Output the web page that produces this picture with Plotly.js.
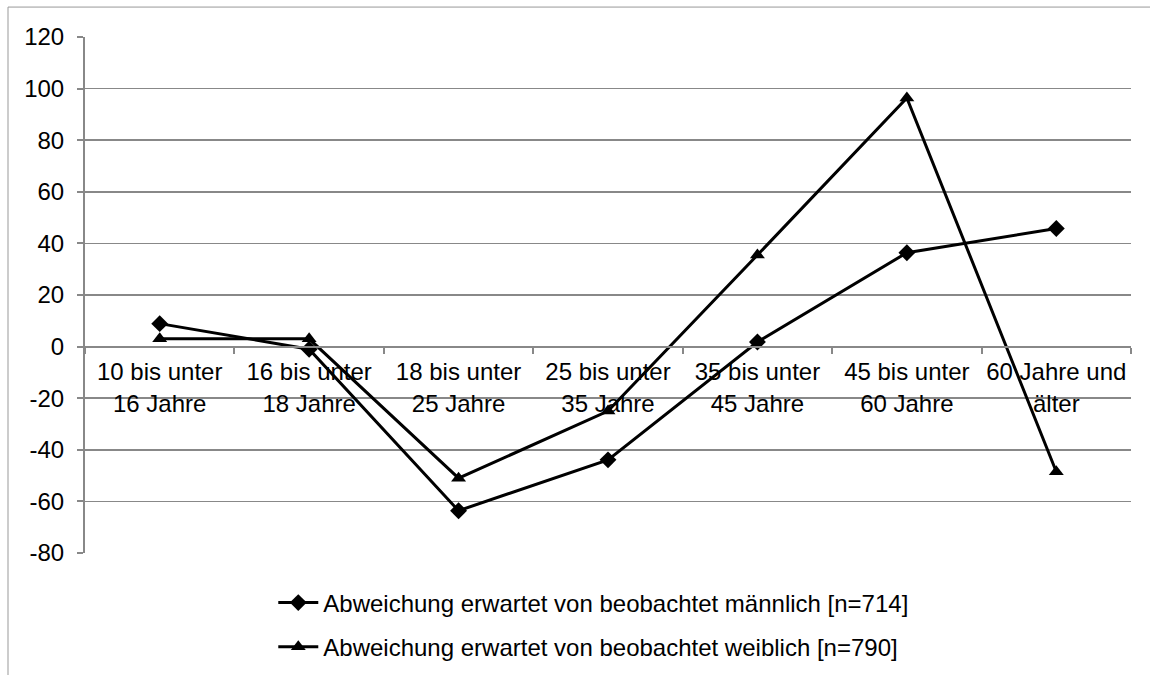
<!DOCTYPE html>
<html>
<head>
<meta charset="utf-8">
<script src="https://cdn.plot.ly/plotly-3.0.1.min.js"></script>
<style>
html,body{margin:0;padding:0;background:#fff;}
#chart{width:1150px;height:675px;}
</style>
</head>
<body>
<div id="chart"></div>
<script>
const categories = [
  "10 bis unter<br>16 Jahre",
  "16 bis unter<br>18 Jahre",
  "18 bis unter<br>25 Jahre",
  "25 bis unter<br>35 Jahre",
  "35 bis unter<br>45 Jahre",
  "45 bis unter<br>60 Jahre",
  "60 Jahre und<br>älter"
];
const maleValues = [8.9, -1, -63.6, -43.9, 1.8, 36.4, 45.8];
const femaleValues = [3, 3, -51, -25, 35.5, 96.4, -48.5];
const maleName = "Abweichung erwartet von beobachtet männlich [n=714]";
const femaleName = "Abweichung erwartet von beobachtet weiblich [n=790]";
const yTicks = [-80, -60, -40, -20, 0, 20, 40, 60, 80, 100, 120];

const FONT = "Liberation Sans, Arial, sans-serif";

const traces = [
  {
    x: categories, y: maleValues, name: maleName, type: "scatter", mode: "lines+markers",
    legendgroup: "m",
    line: {color: "#000", width: 3},
    marker: {symbol: "diamond", size: 13, color: "#000"}
  },
  {
    x: categories, y: femaleValues, name: femaleName, type: "scatter", mode: "lines+markers",
    legendgroup: "f",
    line: {color: "#000", width: 3},
    marker: {symbol: "triangle-up", size: 13, color: "#000"}
  }
];

const layout = {
  width: 1150, height: 675,
  margin: {l: 85, r: 19, t: 37, b: 122},
  paper_bgcolor: "#fff", plot_bgcolor: "#fff",
  font: {family: FONT, color: "#000", size: 24},
  showlegend: true,
  legend: {
    orientation: "v", xref: "paper", x: 0.18, xanchor: "left",
    yref: "container", y: 0.14, yanchor: "top",
    font: {family: FONT, size: 24, color: "#000"},
    tracegroupgap: 10, itemwidth: 40,
    bgcolor: "rgba(0,0,0,0)"
  },
  xaxis: {
    type: "category",
    anchor: "free", position: 0.4,
    showline: true, linecolor: "#888", linewidth: 2,
    showgrid: false, zeroline: false,
    ticks: "outside", ticklen: 6, tickcolor: "#888", tickwidth: 2,
    tickson: "boundaries", tickangle: 0, automargin: false,
    tickfont: {family: FONT, size: 24, color: "#000"},
    ticklabelstandoff: 4,
    range: [-0.5, 6.5]
  },
  yaxis: {
    range: [-80, 120], tickvals: yTicks, ticktext: yTicks.map(String),
    showline: true, linecolor: "#888", linewidth: 2,
    showgrid: true, gridcolor: "#888", gridwidth: 1.5,
    zeroline: false, automargin: false,
    ticks: "outside", ticklen: 6, tickcolor: "#888", tickwidth: 2,
    tickfont: {family: FONT, size: 24, color: "#000"},
    ticklabelstandoff: 8
  },
  shapes: [
    {type: "line", xref: "paper", yref: "paper", x0: -0.0736, x1: 1.1, y0: 1.058, y1: 1.058, line: {color: "#999", width: 1}},
    {type: "line", xref: "paper", yref: "paper", x0: -0.0736, x1: -0.0736, y0: 1.058, y1: -0.25, line: {color: "#999", width: 1}}
  ]
};

Plotly.newPlot("chart", traces, layout, {displayModeBar: false, staticPlot: true});
</script>
</body>
</html>
